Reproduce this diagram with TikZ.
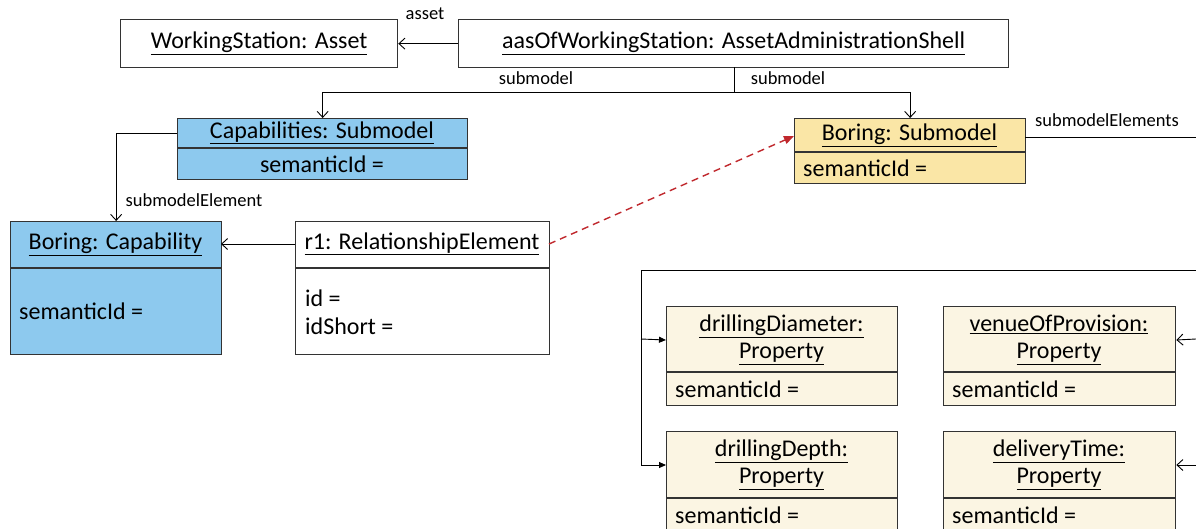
\documentclass[tikz,border=0pt]{standalone}
\usepackage{fontspec}
\setmainfont{Carlito}
\usetikzlibrary{arrows.meta,calc}
\definecolor{capblue}{HTML}{8DC9EE}
\definecolor{smyellow}{HTML}{FAE6A6}
\definecolor{propcream}{HTML}{FBF5E3}
\definecolor{edgegray}{HTML}{333333}
\definecolor{relred}{HTML}{C0282D}

\begin{document}
\begin{tikzpicture}[x=1pt,y=-1pt,
  box/.style={draw=edgegray, line width=1.3pt, inner sep=0pt, anchor=north west},
  titletext/.style={font=\fontsize{24}{27}\selectfont, inner sep=0pt, align=center},
  attrtext/.style={font=\fontsize{24}{28}\selectfont, inner sep=0pt, anchor=west, align=left},
  lbl/.style={font=\fontsize{18.5}{20}\selectfont, inner sep=0pt},
  divider/.style={draw=edgegray, line width=1.3pt},
  conn/.style={draw=black, line width=0.9pt},
  openhead/.style={-{Straight Barb[length=6pt,width=11pt,line width=0.9pt]}},
  filledhead/.style={-{Triangle[length=7pt,width=6pt]}},
]
\useasboundingbox (0,0) rectangle (1196,528);
\clip (0,0) rectangle (1196,528);

% --- asset administration shell and asset
\node[box, minimum width=277, minimum height=48, titletext] (ws) at (120,19)
  {\underline{WorkingStation: Asset}};
\node[box, minimum width=550, minimum height=48, titletext] (aas) at (458,19)
  {\underline{aasOfWorkingStation: AssetAdministrationShell}};

% --- submodels
\node[box, fill=capblue, minimum width=290, minimum height=61] (capsm) at (177,118) {};
\draw[divider] (177,148) -- (467,148);
\node[titletext] (capsmT) at (322,133) {\underline{Capabilities: Submodel}};
\node[titletext] (capsmA) at (322,164) {semanticId =};

\node[box, fill=smyellow, minimum width=231, minimum height=65] (bsm) at (794,118) {};
\draw[divider] (794,152) -- (1025,152);
\node[titletext] (bsmT) at (909.5,135) {\underline{Boring: Submodel}};
\node[attrtext] (bsmA) at (803,168) {semanticId =};

% --- capability and relationship
\node[box, fill=capblue, minimum width=211, minimum height=133] (cap) at (10,221) {};
\draw[divider] (10,268) -- (221,268);
\node[titletext] (capT) at (115.5,244) {\underline{Boring: Capability}};
\node[attrtext] (capA) at (19,311) {semanticId =};

\node[box, fill=white, minimum width=254, minimum height=133] (rel) at (295,221) {};
\draw[divider] (295,268) -- (549,268);
\node[titletext] (relT) at (422,244) {\underline{r1: RelationshipElement}};
\node[attrtext] (relA) at (305,312) {id =\\idShort =};

% --- properties
\node[box, fill=propcream, minimum width=231, minimum height=99] (pdia) at (666,306) {};
\draw[divider] (666,372) -- (897,372);
\node[titletext] (pdiaT) at (781.5,340) {\underline{drillingDiameter:}\\\underline{Property}};
\node[attrtext] (pdiaA) at (675,389) {semanticId =};

\node[box, fill=propcream, minimum width=232, minimum height=99] (pven) at (943,306) {};
\draw[divider] (943,372) -- (1175,372);
\node[titletext] (pvenT) at (1059,340) {\underline{venueOfProvision:}\\\underline{Property}};
\node[attrtext] (pvenA) at (952,389) {semanticId =};

\node[box, fill=propcream, minimum width=231, minimum height=110] (pdep) at (666,431) {};
\draw[divider] (666,498) -- (897,498);
\node[titletext] (pdepT) at (781.5,465) {\underline{drillingDepth:}\\\underline{Property}};
\node[attrtext] (pdepA) at (675,515) {semanticId =};

\node[box, fill=propcream, minimum width=232, minimum height=110] (pdel) at (943,431) {};
\draw[divider] (943,498) -- (1175,498);
\node[titletext] (pdelT) at (1059,465) {\underline{deliveryTime:}\\\underline{Property}};
\node[attrtext] (pdelA) at (952,515) {semanticId =};

% --- connectors
\draw[conn, openhead] (aas.west) -- (ws.east);
\node[lbl] (lAsset) at (425,14) {asset};

\coordinate (aasDown) at (734,67);
\coordinate (split) at (734,92);
\draw[conn] (aasDown) -- (split);
\draw[conn, openhead] (split) -| (capsm.north);
\draw[conn, openhead] (split) -| (bsm.north);
\node[lbl] (lSm1) at (536,78) {submodel};
\node[lbl] (lSm2) at (788,78) {submodel};

\coordinate (capsmOut) at (177,133);
\draw[conn, openhead] (capsmOut) -| (cap.north);
\node[lbl] (lSme) at (194,200) {submodelElement};

\coordinate (relOut) at (295,244);
\coordinate (capIn) at (221,244);
\draw[conn, openhead] (relOut) -- (capIn);

\coordinate (relRight) at (549,244);
\coordinate (bsmIn) at (794,136);
\draw[relred, line width=1.4pt, dash pattern=on 7pt off 5pt,
  -{Triangle[length=10pt,width=8pt]}] (relRight) -- (bsmIn);

\coordinate (bsmOut) at (1025,137);
\coordinate (bsmEdge) at (1196,137);
\draw[conn] (bsmOut) -- (bsmEdge);
\node[lbl] (lSmes) at (1107,120) {submodelElements};

\coordinate (busRight) at (1196,270);
\coordinate (busCorner) at (641,270);
\coordinate (busLow) at (641,465);
\draw[conn] (busRight) -- (busCorner) -- (busLow);
\draw[conn, filledhead] (641,339) -- (pdia.west |- pdiaT);
\draw[conn, filledhead] (busLow) -- (pdep.west |- pdepT);

\coordinate (venEdge) at (1196,339);
\coordinate (delEdge) at (1196,465);
\draw[conn, openhead] (venEdge) -- (pven.east |- pvenT);
\draw[conn, openhead] (delEdge) -- (pdel.east |- pdelT);
\end{tikzpicture}
\end{document}
